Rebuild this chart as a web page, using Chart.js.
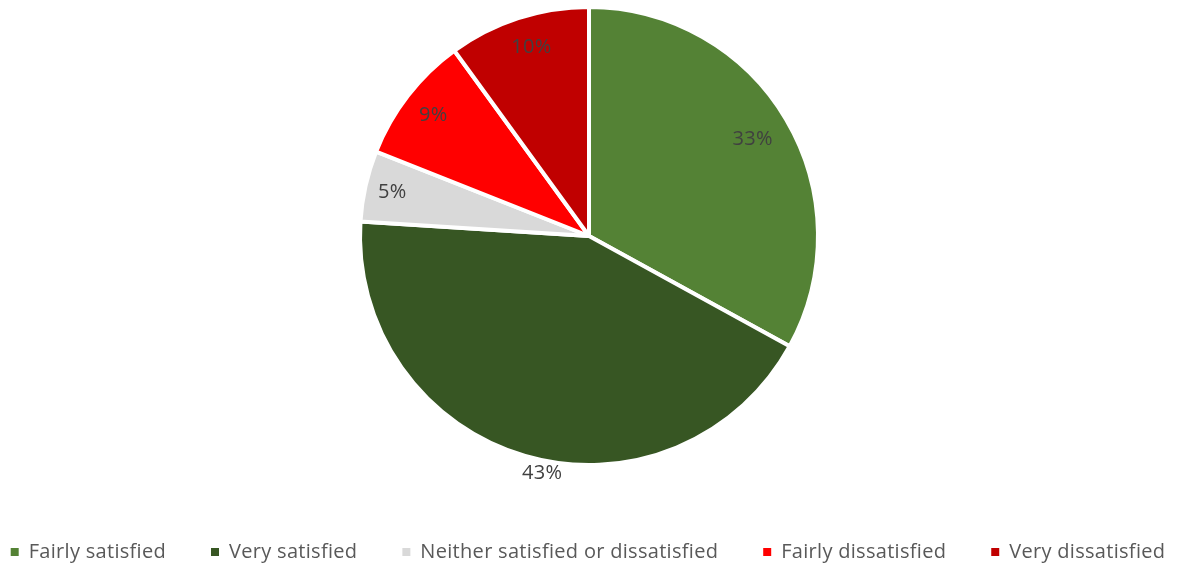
<!DOCTYPE html>
<html>
<head>
<meta charset="utf-8">
<script src="https://cdn.jsdelivr.net/npm/chart.js@4"></script>
<style>
  html, body { margin: 0; padding: 0; background: #fff; }
  #wrap { width: 1178px; height: 567px; position: relative; }
</style>
</head>
<body>
<div id="wrap"><canvas id="pieChart"></canvas></div>
<script>
// datos del gráfico
const categorias = [
  "Fairly satisfied",
  "Very satisfied",
  "Neither satisfied or dissatisfied",
  "Fairly dissatisfied",
  "Very dissatisfied",
];
const valores = [33, 43, 5, 9, 10];
const colores = ["#548235", "#375623", "#D9D9D9", "#FF0000", "#C00000"];

// posición de cada etiqueta: fracción del radio y desvío de ángulo en grados (best fit de Excel)
const posEtiquetas = [0.83, 1.055, 0.88, 0.86, 0.86];
const desvioEtiquetas = [0, -5, 0, 0, 1];

// espaciado de letras parecido al de Excel
const espaciadoPlugin = {
  id: "espaciado",
  beforeUpdate(chart) {
    chart.ctx.letterSpacing = "0.3px";
  },
  beforeDraw(chart) {
    chart.ctx.letterSpacing = "0.3px";
  },
};

const etiquetasPlugin = {
  id: "etiquetas",
  afterDatasetsDraw(chart) {
    const ctx = chart.ctx;
    const meta = chart.getDatasetMeta(0);
    const total = valores.reduce((a, b) => a + b, 0);
    ctx.save();
    ctx.font = "20px 'Open Sans', sans-serif";
    ctx.fillStyle = "#404040";
    ctx.textAlign = "center";
    ctx.textBaseline = "middle";
    meta.data.forEach((arc, i) => {
      const p = arc.getProps(["x", "y", "startAngle", "endAngle", "outerRadius"], true);
      const mid = (p.startAngle + p.endAngle) / 2 + (desvioEtiquetas[i] * Math.PI) / 180;
      const r = p.outerRadius * posEtiquetas[i];
      const x = p.x + Math.cos(mid) * r;
      const y = p.y + Math.sin(mid) * r;
      ctx.fillText(Math.round((valores[i] / total) * 100) + "%", x, y);
    });
    ctx.restore();
  },
};

const generarEtiquetas = Chart.overrides.pie.plugins.legend.labels.generateLabels;

new Chart(document.getElementById("pieChart"), {
  type: "pie",
  data: {
    labels: categorias,
    datasets: [
      {
        data: valores,
        backgroundColor: colores,
        borderColor: "#ffffff",
        borderWidth: 4,
        hoverOffset: 0,
      },
    ],
  },
  options: {
    responsive: true,
    maintainAspectRatio: false,
    animation: false,
    layout: {
      padding: { top: 5, bottom: -5, left: -51, right: -49 },
    },
    plugins: {
      tooltip: { enabled: false },
      legend: {
        position: "bottom",
        title: {
          display: true,
          text: "",
          font: { size: 10 },
          padding: { top: 18, bottom: 0 },
        },
        labels: {
          boxWidth: 8,
          boxHeight: 8,
          padding: 45,
          color: "#595959",
          font: { family: "'Open Sans', sans-serif", size: 20 },
          generateLabels(chart) {
            return generarEtiquetas(chart).map((item) => ({
              ...item,
              lineWidth: 0,
              strokeStyle: "rgba(0,0,0,0)",
            }));
          },
        },
      },
    },
  },
  plugins: [espaciadoPlugin, etiquetasPlugin],
});
</script>
</body>
</html>
